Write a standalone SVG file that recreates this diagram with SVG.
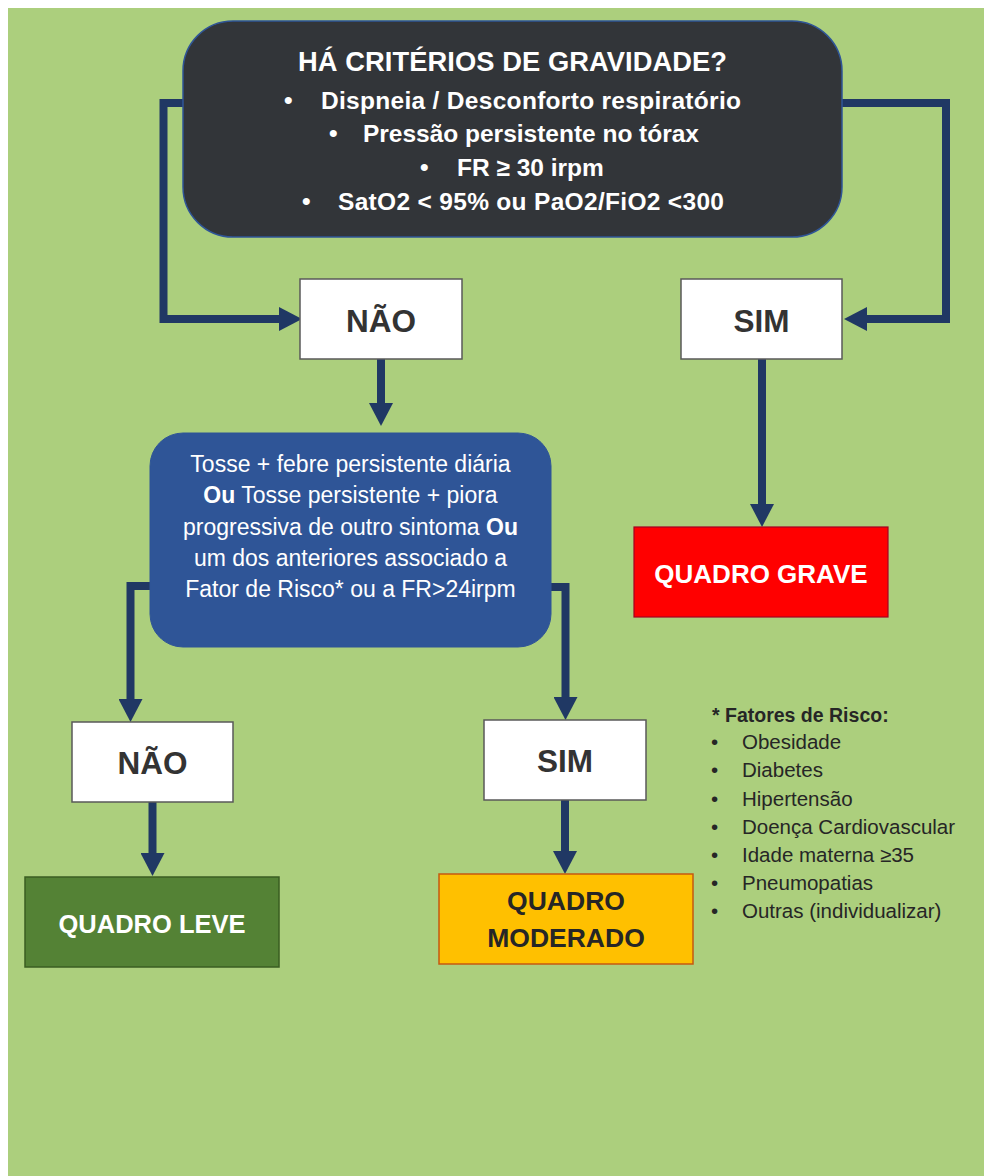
<svg xmlns="http://www.w3.org/2000/svg" width="984" height="1176" viewBox="0 0 984 1176">
<style>
  .bold { font-family: "Liberation Sans", Arial, sans-serif; font-weight: bold; }
  .reg { font-family: "Liberation Sans", Arial, sans-serif; }
  .conn { fill: none; stroke: #203864; stroke-width: 8; stroke-linejoin: miter; stroke-linecap: butt; marker-end: url(#arrow); }
  .wbox { fill: #FFFFFF; stroke: #595959; stroke-width: 1.5; }
  .lbl { font-size: 31.5px; fill: #333333; text-anchor: middle; }
  .white { fill: #FFFFFF; }
  .dark { fill: #262626; }
</style>
<defs>
  <marker id="arrow" markerUnits="userSpaceOnUse" markerWidth="24" markerHeight="24" refX="1" refY="12" orient="auto" viewBox="0 0 24 24">
    <path d="M0,0 L23,12 L0,24 Z" fill="#203864"/>
  </marker>
</defs>
<rect x="0" y="0" width="984" height="1176" fill="#FFFFFF"/>
<rect x="8" y="8" width="976" height="1168" fill="#ACCF7D"/>

<g id="connectors">
  <path class="conn" d="M186,103 H163.5 V319 H280"/>
  <path class="conn" d="M839,103 H946 V319 H866"/>
  <path class="conn" d="M381,359 V404"/>
  <path class="conn" d="M762,359 V505"/>
  <path class="conn" d="M153,586 H130.5 V700"/>
  <path class="conn" d="M548,587 H565.5 V698"/>
  <path class="conn" d="M152.5,802 V854"/>
  <path class="conn" d="M565,800 V852"/>
</g>

<g id="node-criterios">
  <rect x="183" y="21" width="659" height="216" rx="50" ry="50" fill="#323539" stroke="#2F5597" stroke-width="1.5"/>
  <text class="bold white" x="298" y="71" font-size="27.3" textLength="429">HÁ CRITÉRIOS DE GRAVIDADE?</text>
  <g class="bold white" font-size="24.5">
    <text x="284" y="108.5">•</text><text x="321" y="108.5" textLength="420">Dispneia / Desconforto respiratório</text>
    <text x="329" y="142">•</text><text x="363" y="142" textLength="336">Pressão persistente no tórax</text>
    <text x="420" y="175.5">•</text><text x="457" y="175.5">FR ≥ 30 irpm</text>
    <text x="302" y="209.5">•</text><text x="338" y="209.5" textLength="386">SatO2 &lt; 95% ou PaO2/FiO2 &lt;300</text>
  </g>
</g>

<g id="node-nao1">
  <rect class="wbox" x="300" y="279" width="162" height="80"/>
  <text class="bold lbl" x="381" y="332">NÃO</text>
</g>

<g id="node-sim1">
  <rect class="wbox" x="681" y="279" width="161" height="80"/>
  <text class="bold lbl" x="761.5" y="332">SIM</text>
</g>

<g id="node-sintomas">
  <rect x="150" y="433" width="401" height="214" rx="33" ry="33" fill="#2F5597" stroke="#2F5597" stroke-width="1"/>
  <g class="reg white" font-size="23" text-anchor="middle">
    <text x="350.5" y="472">Tosse + febre persistente diária</text>
    <text x="350.5" y="503"><tspan font-weight="bold">Ou</tspan> Tosse persistente + piora</text>
    <text x="350.5" y="535">progressiva de outro sintoma <tspan font-weight="bold">Ou</tspan></text>
    <text x="350.5" y="566">um dos anteriores associado a</text>
    <text x="350.5" y="597">Fator de Risco* ou a FR&gt;24irpm</text>
  </g>
</g>

<g id="node-grave">
  <rect x="634" y="527" width="254" height="90" fill="#FF0000" stroke="#A50021" stroke-width="1.2"/>
  <text class="bold white" x="761" y="583" font-size="26" text-anchor="middle">QUADRO GRAVE</text>
</g>

<g id="node-nao2">
  <rect class="wbox" x="72" y="722" width="161" height="80"/>
  <text class="bold lbl" x="152.5" y="774">NÃO</text>
</g>

<g id="node-sim2">
  <rect class="wbox" x="484" y="720" width="162" height="80"/>
  <text class="bold lbl" x="565" y="772">SIM</text>
</g>

<g id="node-leve">
  <rect x="25" y="877" width="254" height="90" fill="#548235" stroke="#3A5E22" stroke-width="1.5"/>
  <text class="bold white" x="152" y="933" font-size="25.5" text-anchor="middle">QUADRO LEVE</text>
</g>

<g id="node-moderado">
  <rect x="439" y="874" width="254" height="90" fill="#FFC000" stroke="#C55A11" stroke-width="1.5"/>
  <g class="bold dark" font-size="26.5" text-anchor="middle">
    <text x="566" y="910">QUADRO</text>
    <text x="566" y="947">MODERADO</text>
  </g>
</g>

<g id="fatores-risco">
  <text class="bold dark" x="712" y="722" font-size="19.5">* Fatores de Risco:</text>
  <g class="reg dark" font-size="20.5">
    <text x="711" y="749">•</text><text x="742" y="749">Obesidade</text>
    <text x="711" y="777">•</text><text x="742" y="777">Diabetes</text>
    <text x="711" y="805.5">•</text><text x="742" y="805.5">Hipertensão</text>
    <text x="711" y="834">•</text><text x="742" y="834">Doença Cardiovascular</text>
    <text x="711" y="862">•</text><text x="742" y="862">Idade materna ≥35</text>
    <text x="711" y="890">•</text><text x="742" y="890">Pneumopatias</text>
    <text x="711" y="918">•</text><text x="742" y="918">Outras (individualizar)</text>
  </g>
</g>
</svg>
